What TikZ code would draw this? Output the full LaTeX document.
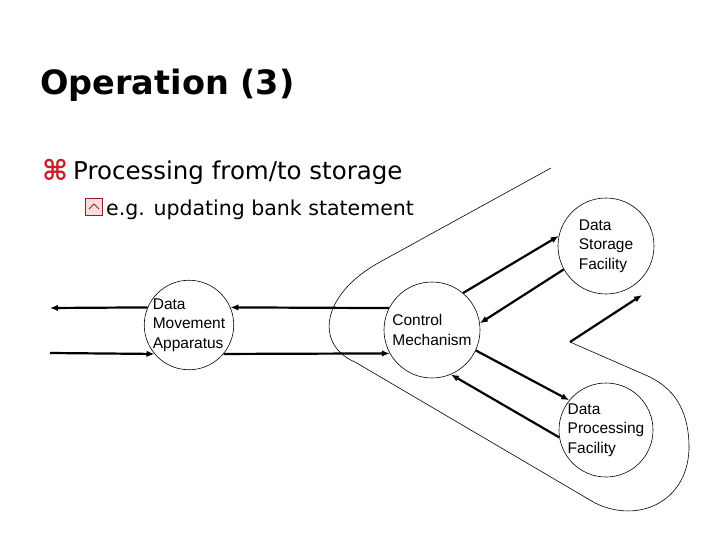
\documentclass[tikz,border=0pt]{standalone}
\usepackage{fontspec}
\setmainfont{DejaVu Sans}
\newfontfamily\arialf{Liberation Sans}
\usetikzlibrary{arrows.meta}
\definecolor{bulred}{RGB}{200,30,40}
\begin{document}
\begin{tikzpicture}[x=1pt,y=-1pt,
  proc/.style={circle,draw,line width=0.6pt,inner sep=0pt,align=left,
    font=\arialf\fontsize{15.5}{19.5}\selectfont},
  flow/.style={line width=2.2pt,-{Latex[length=8pt,width=6.5pt]}}]
\useasboundingbox (0,0) rectangle (720,540);
% title and bullets
\node[anchor=base west,inner sep=0pt,font=\bfseries\fontsize{33.5}{38}\selectfont] (title) at (40,95) {Operation (3)};
\node[anchor=base west,inner sep=0pt,text=bulred,font=\bfseries\fontsize{28}{30}\selectfont] (b1) at (42,181) {⌘};
\node[anchor=base west,inner sep=0pt,font=\fontsize{24.5}{28}\selectfont] (t1) at (73,180) {Processing from/to storage};
\node[draw=bulred!80!black,fill=bulred!15,line width=1pt,minimum size=17pt,inner sep=0pt] (b2) at (94,207) {};
\draw[bulred!80!black,line width=1pt] ([xshift=-5pt,yshift=-2pt]b2.center) -- ([yshift=3pt]b2.center) -- ([xshift=5pt,yshift=-2pt]b2.center);
\node[anchor=base west,inner sep=0pt,font=\fontsize{20.5}{24}\selectfont] (t2) at (106,215) {e.g. updating bank statement};
% process circles
\node[proc,minimum size=88pt] (dma) at (189,325) {Data\\Movement\\Apparatus};
\node[proc,minimum size=96pt] (cm) at (432,330) {Control\\Mechanism};
\node[proc,minimum size=96pt] (ds) at (606,246) {Data\\Storage\\Facility};
\node[proc,minimum size=94pt] (dp) at (606,430) {Data\\Processing\\Facility};
\coordinate (outL) at (50,308);
\coordinate (inL) at (50,353);
\coordinate (fs) at (570,342);
\coordinate (fe) at (642,295);
% flows
\draw[flow] (dma.157) -- (outL);
\draw[flow] (inL) -- (dma.220);
\draw[flow] (cm.153) -- (dma.23);
\draw[flow] (dma.-40) -- (cm.209);
\draw[flow] (cm.50) -- (ds.168);
\draw[flow] (ds.209) -- (cm.8);
\draw[flow] (cm.335) -- (dp.141);
\draw[flow] (dp.189) -- (cm.293);
\draw[flow] (fs) -- (fe);
% boundary
\draw[line width=0.6pt] (551,168) -- (380,262) .. controls (320,295) and (315,345) .. (355,362)
  -- (595,503) .. controls (640,525) and (690,500) .. (689,445)
  .. controls (688,400) and (665,385) .. (650,377) -- (fs);
\end{tikzpicture}
\end{document}
